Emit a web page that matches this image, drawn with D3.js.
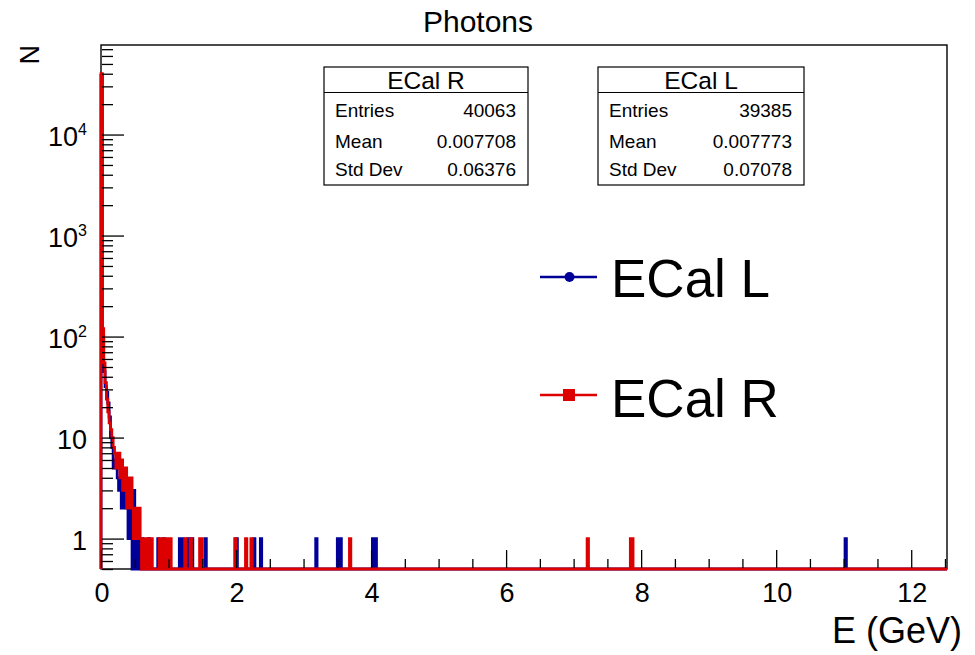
<!DOCTYPE html>
<html>
<head>
<meta charset="utf-8">
<script src="https://cdn.jsdelivr.net/npm/d3@7"></script>
<style>
  html, body { margin: 0; padding: 0; background: #fff; }
  svg { display: block; }
  text { font-family: "Liberation Sans", Arial, Helvetica, sans-serif; fill: #000; }
</style>
</head>
<body>
<svg id="chart" width="975" height="655"></svg>
<script>
// ---------------- data ----------------
const title = "Photons";
const xTitle = "E (GeV)";
const yTitle = "N";
const binWidth = 0.02;
const xMax = 12.53;
const yMin = 0.5, yMax = 77000;

// ECal R (red) non-empty bins: lower edge (GeV) and counts
const redE = [0.00,0.02,0.04,0.06,0.08,0.10,0.12,0.14,0.16,0.18,0.20,0.22,0.24,0.26,0.28,0.30,0.32,0.34,0.36,0.38,0.40,0.42,0.44,0.46,0.48,0.50,0.52,0.54,0.56,0.58,0.62,0.66,0.70,0.74,0.86,0.90,0.94,0.98,1.02,1.24,1.32,1.46,1.48,1.98,2.14,2.22,3.68,7.20,7.84,7.86];
const redN = [40000,120,55,35,24,18,14,12,10,8,7,5,6,7,4,6,3,3,5,2,4,2,4,2,1,2,2,1,2,1,1,1,1,1,1,1,1,1,1,1,1,1,1,1,1,1,1,1,1,1];

// ECal L (blue) non-empty bins
const blueE = [0.00,0.02,0.04,0.06,0.08,0.10,0.12,0.14,0.16,0.18,0.20,0.22,0.24,0.26,0.28,0.30,0.32,0.34,0.36,0.38,0.40,0.42,0.44,0.48,0.54,0.60,0.70,0.84,0.92,1.16,1.20,1.28,1.34,1.54,2.00,2.26,2.36,3.18,3.50,3.54,4.02,4.06,11.02];
const blueN = [38500,100,45,32,28,22,16,10,8,5,6,5,4,3,4,2,3,2,3,3,1,2,1,3,1,1,1,1,1,1,1,1,1,1,1,1,1,1,1,1,1,1,1];

const xMajorTicks = [0, 2, 4, 6, 8, 10, 12];
const yMajorTicks = [1, 10, 100, 1000, 10000];
const yTickLabels = [["1", ""], ["10", ""], ["10", "2"], ["10", "3"], ["10", "4"]];

const statsNames = ["ECal R", "ECal L"];
const statsLabels = ["Entries", "Mean", "Std Dev"];
const statsR = ["40063", "0.007708", "0.06376"];
const statsL = ["39385", "0.007773", "0.07078"];

const legendNames = ["ECal L", "ECal R"];
const colors = { L: "#000099", R: "#dd0000" };

// ---------------- layout ----------------
const svg = d3.select("#chart");
const frame = { left: 101, right: 947, top: 45, bottom: 569 };

const x = d3.scaleLinear().domain([0, xMax]).range([frame.left, frame.right]);
const y = d3.scaleLog().domain([yMin, yMax]).range([frame.bottom, frame.top]);

svg.append("defs").append("clipPath").attr("id", "clip")
  .append("rect").attr("x", frame.left - 3).attr("y", frame.top)
  .attr("width", frame.right - frame.left + 3).attr("height", frame.bottom - frame.top + 2);

// frame (drawn below the histograms)
svg.append("rect").attr("x", frame.left).attr("y", frame.top)
  .attr("width", frame.right - frame.left).attr("height", frame.bottom - frame.top)
  .attr("fill", "none").attr("stroke", "#000").attr("stroke-width", 1.4);

// build full histograms
function buildHist(E, N) {
  const nb = Math.ceil(xMax / binWidth);
  const counts = new Array(nb).fill(0);
  E.forEach((e, i) => { counts[Math.round(e / binWidth)] += N[i]; });
  const pts = [[0, yMin]];
  counts.forEach((c, i) => {
    const v = Math.max(c, yMin);
    pts.push([i * binWidth, v]);
    pts.push([Math.min((i + 1) * binWidth, xMax), v]);
  });
  pts.push([xMax, yMin]);
  return pts;
}

const line = d3.line().x(d => x(d[0])).y(d => y(d[1]));

const gHist = svg.append("g").attr("clip-path", "url(#clip)");
gHist.append("path").attr("d", line(buildHist(blueE, blueN)))
  .attr("fill", "none").attr("stroke", colors.L).attr("stroke-width", 2.8);
gHist.append("path").attr("d", line(buildHist(redE, redN)))
  .attr("fill", "none").attr("stroke", colors.R).attr("stroke-width", 2.8);

// ---------------- axes ----------------
const axisColor = "#000";
const xMinor = d3.range(0, xMax + 1e-9, 0.5).filter(v => !xMajorTicks.includes(v));
const gx = svg.append("g").attr("transform", `translate(0,${frame.bottom - 1})`);
gx.call(d3.axisBottom(x).tickValues(xMinor).tickSize(-9).tickFormat(""));
gx.call(g => g.select(".domain").remove());
const gx2 = svg.append("g").attr("transform", `translate(0,${frame.bottom - 1})`);
gx2.call(d3.axisBottom(x).tickValues(xMajorTicks).tickSize(-18).tickFormat(""));
gx2.call(g => g.select(".domain").remove());

svg.append("g").selectAll("text").data(xMajorTicks).join("text")
  .attr("x", d => x(d) + 1).attr("y", 602)
  .attr("text-anchor", "middle").attr("font-size", 27)
  .text(d => d);

const yMinor = [];
[0.1, 1, 10, 100, 1000, 10000].forEach(dec => {
  for (let k = 2; k <= 9; k++) {
    const v = dec * k;
    if (v >= yMin && v <= yMax) yMinor.push(v);
  }
});
const gy = svg.append("g").attr("transform", `translate(${frame.left + 1},0)`);
gy.call(d3.axisLeft(y).tickValues(yMinor).tickSize(-11).tickFormat(""));
gy.call(g => g.select(".domain").remove());
const gy2 = svg.append("g").attr("transform", `translate(${frame.left + 1},0)`);
gy2.call(d3.axisLeft(y).tickValues(yMajorTicks).tickSize(-22).tickFormat(""));
gy2.call(g => g.select(".domain").remove());
svg.selectAll(".tick line").attr("stroke", axisColor).attr("stroke-width", 1.3);

const ylab = svg.append("g").selectAll("text").data(yMajorTicks).join("text")
  .attr("x", 87).attr("y", d => y(d) + 11)
  .attr("text-anchor", "end").attr("font-size", 27);
ylab.each(function(d, i) {
  const t = d3.select(this);
  const [base, sup] = yTickLabels[i];
  t.append("tspan").text(base);
  if (sup) t.append("tspan").attr("font-size", 16).attr("dy", -11).text(sup);
});

// titles
svg.append("text").attr("x", 478).attr("y", 32).attr("text-anchor", "middle")
  .attr("font-size", 30).text(title);
svg.append("text").attr("x", 962).attr("y", 643).attr("text-anchor", "end")
  .attr("font-size", 36).text(xTitle);
svg.append("text").attr("transform", "translate(39,45) rotate(-90)")
  .attr("text-anchor", "end").attr("font-size", 27).text(yTitle);

// ---------------- stats boxes ----------------
function statsBox(x0, x1, name, values) {
  const g = svg.append("g");
  g.append("rect").attr("x", x0).attr("y", 67).attr("width", x1 - x0).attr("height", 118)
    .attr("fill", "#fff").attr("stroke", "#000").attr("stroke-width", 1.2);
  g.append("line").attr("x1", x0).attr("x2", x1).attr("y1", 92.5).attr("y2", 92.5)
    .attr("stroke", "#000").attr("stroke-width", 1.2);
  g.append("text").attr("x", (x0 + x1) / 2).attr("y", 89).attr("text-anchor", "middle")
    .attr("font-size", 24.5).text(name);
  const rows = [117, 147.5, 175.5];
  statsLabels.forEach((lab, i) => {
    g.append("text").attr("x", x0 + 11).attr("y", rows[i]).attr("font-size", 19).text(lab);
    g.append("text").attr("x", x1 - 12).attr("y", rows[i]).attr("text-anchor", "end")
      .attr("font-size", 19).text(values[i]);
  });
}
statsBox(324, 528, statsNames[0], statsR);
statsBox(598, 804, statsNames[1], statsL);

// ---------------- legend ----------------
const lg = svg.append("g");
lg.append("line").attr("x1", 540).attr("x2", 597).attr("y1", 277).attr("y2", 277)
  .attr("stroke", colors.L).attr("stroke-width", 2.7);
lg.append("circle").attr("cx", 569.5).attr("cy", 277).attr("r", 5).attr("fill", colors.L);
lg.append("text").attr("x", 611).attr("y", 297).attr("font-size", 53).text(legendNames[0]);
lg.append("line").attr("x1", 540).attr("x2", 597).attr("y1", 395).attr("y2", 395)
  .attr("stroke", colors.R).attr("stroke-width", 2.7);
lg.append("rect").attr("x", 563).attr("y", 389).attr("width", 12).attr("height", 12).attr("fill", colors.R);
lg.append("text").attr("x", 611).attr("y", 417).attr("font-size", 53).text(legendNames[1]);
</script>
</body>
</html>
